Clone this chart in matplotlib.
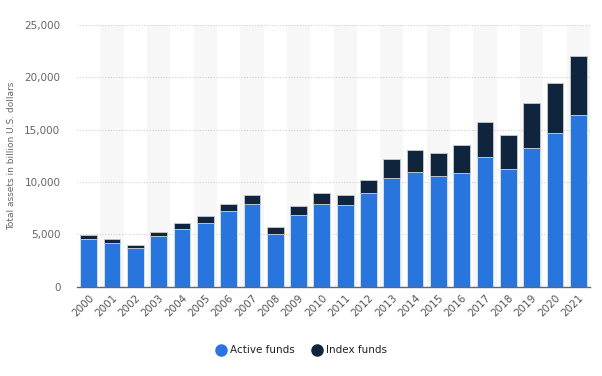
import matplotlib
matplotlib.use("Agg")
import matplotlib.pyplot as plt
from matplotlib.lines import Line2D
from matplotlib.ticker import FuncFormatter

years = [str(y) for y in range(2000, 2022)]
active = [4610, 4170, 3720, 4840, 5560, 6110, 7220, 7950, 5090, 6810, 7950, 7790,
          8940, 10430, 10940, 10590, 10910, 12430, 11230, 13290, 14660, 16410]
index_f = [380, 440, 320, 410, 580, 630, 730, 860, 640, 890, 960, 1020,
           1270, 1780, 2110, 2170, 2580, 3340, 3270, 4240, 4810, 5660]

c_active = "#2876dd"
c_index = "#0f253d"

fig = plt.figure(figsize=(6.02, 3.76), dpi=100)
ax = fig.add_axes([0.128, 0.237, 0.852, 0.697])

x = list(range(len(years)))
for i in x:
    if i % 2 == 1:
        ax.axvspan(i - 0.5, i + 0.5, color="#f7f7f7", zorder=0, lw=0)

ax.bar(x, active, width=0.72, color=c_active, edgecolor="#dfe6ee", linewidth=0.6, zorder=3)
ax.bar(x, index_f, bottom=active, width=0.72, color=c_index, edgecolor="#c8ccd2", linewidth=0.6, zorder=3)

ax.set_xlim(-0.5, len(years) - 0.5)
ax.set_ylim(0, 25000)
ax.set_yticks(range(0, 25001, 5000))
ax.yaxis.set_major_formatter(FuncFormatter(lambda v, p: f"{int(v):,}"))
ax.grid(axis="y", linestyle=(0, (1, 1.5)), color="#cfcfcf", linewidth=0.8, zorder=1)
ax.set_axisbelow(True)

for s in ["top", "right", "left"]:
    ax.spines[s].set_visible(False)
ax.spines["bottom"].set_color("#666666")
ax.spines["bottom"].set_linewidth(1.0)
ax.spines["bottom"].set_zorder(4)

ax.set_xticks(x)
ax.set_xticklabels(years, rotation=45, ha="right", rotation_mode="anchor",
                   fontsize=7.5, color="#555555")
ax.tick_params(axis="x", length=0, pad=4)
ax.tick_params(axis="y", length=0, pad=12, labelsize=7.5, labelcolor="#666666")

ax.set_ylabel("Total assets in billion U.S. dollars", fontsize=6.5, color="#666666", labelpad=6)

handles = [Line2D([0], [0], marker="o", color="none", markerfacecolor=c_active,
                  markeredgecolor=c_active, markersize=8, label="Active funds"),
           Line2D([0], [0], marker="o", color="none", markerfacecolor=c_index,
                  markeredgecolor=c_index, markersize=8, label="Index funds")]
leg = fig.legend(handles=handles, loc="center", bbox_to_anchor=(0.5, 0.068), ncol=2,
                 frameon=False, fontsize=7.5, handletextpad=0.2, columnspacing=1.6,
                 handlelength=1.2)
for t in leg.get_texts():
    t.set_color("#222222")

fig.savefig("out.png", dpi=100)
